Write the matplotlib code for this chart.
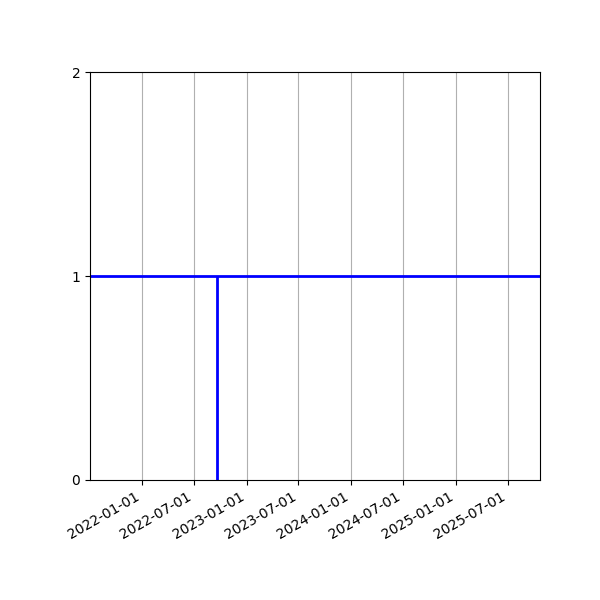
import numpy as np
import matplotlib
matplotlib.use("Agg")
import matplotlib.pyplot as plt
import matplotlib.dates as mdates
from datetime import datetime

# data
level = 1
event_date = datetime(2022, 9, 19)
x_start = datetime(2021, 7, 3)
x_end = datetime(2025, 10, 22)
y_ticks = [0, 1, 2]

fig, ax = plt.subplots(figsize=(6, 6), dpi=100)
fig.subplots_adjust(left=0.15, right=0.9, top=0.88, bottom=0.2)

ax.axhline(level, color='blue', linewidth=2)
ax.vlines(event_date, 0, level, color='blue', linewidth=2)

ax.set_xlim(x_start, x_end)
ax.set_ylim(0, 2)
ax.set_yticks(y_ticks)

ax.xaxis.set_major_locator(mdates.MonthLocator(bymonth=[1, 7]))
ax.xaxis.set_major_formatter(mdates.DateFormatter('%Y-%m-%d'))
ax.grid(True, axis='x')
plt.setp(ax.get_xticklabels(), rotation=30, ha='right')

fig.savefig('out.png')
